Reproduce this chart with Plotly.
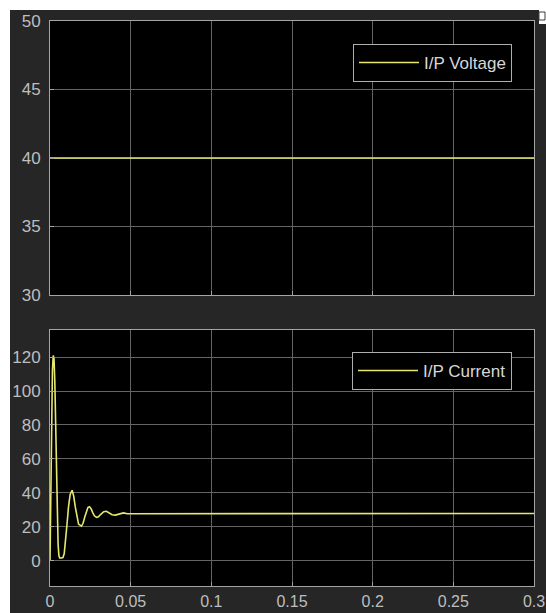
import plotly.graph_objects as go

# ---- data ----
volt_t = [0.0, 0.3]
volt_v = [40.0, 40.0]

curr_t = [0.0, 0.0005, 0.001, 0.0015, 0.002, 0.0025, 0.003, 0.0035, 0.004, 0.0045,
          0.005, 0.0055, 0.006, 0.007, 0.008, 0.0088, 0.0095, 0.0105, 0.0115, 0.0125,
          0.0137, 0.0147, 0.0157, 0.0167, 0.0177, 0.0195, 0.0205, 0.0215, 0.0225, 0.0235,
          0.0245, 0.0255, 0.0265, 0.0275, 0.0288, 0.030, 0.0315, 0.0333, 0.035, 0.0365,
          0.0385, 0.0405, 0.043, 0.0455, 0.048, 0.051, 0.055, 0.06, 0.1, 0.15, 0.2, 0.25, 0.3]
curr_v = [0.0, 40, 85, 112, 121, 119, 105, 80, 52, 27,
          10, 3, 1.5, 1.5, 1.8, 4, 10, 21, 32, 39,
          41.5, 38, 31.5, 25, 21.5, 20.3, 22, 25.5, 29, 31.3,
          31.8, 30.5, 28.3, 26.4, 25.5, 25.8, 27.3, 28.8, 29.1, 28.3,
          27.0, 26.8, 27.6, 28.1, 27.6, 27.6, 27.9, 27.7, 27.8, 27.7, 27.8, 27.7, 27.8]

x_ticks = [0, 0.05, 0.1, 0.15, 0.2, 0.25, 0.3]
x_labels = ["0", "0.05", "0.1", "0.15", "0.2", "0.25", "0.3"]
v_ticks = [30, 35, 40, 45, 50]
c_ticks = [0, 20, 40, 60, 80, 100, 120]

# ---- style ----
W, H = 546, 613
ML, MR, MT, MB = 50, 12, 21, 27
PW, PH = W - ML - MR, H - MT - MB
PANEL = "rgb(38,38,38)"
GRID = "rgb(100,100,100)"
AXL = "rgb(165,165,165)"
TXT = "rgb(190,190,190)"
LINE = "rgb(232,232,110)"
FONT = "Liberation Sans, Arial, sans-serif"

def py(pix):
    return (H - MB - pix) / PH

def px(pix):
    return (pix - ML) / PW

fig = go.Figure()
fig.add_trace(go.Scatter(x=volt_t, y=volt_v, mode="lines", name="I/P Voltage",
                         line=dict(color=LINE, width=1.6), xaxis="x", yaxis="y",
                         legend="legend"))
fig.add_trace(go.Scatter(x=curr_t, y=curr_v, mode="lines", name="I/P Current",
                         line=dict(color=LINE, width=1.6), xaxis="x2", yaxis="y2",
                         legend="legend2"))

ax_common = dict(showgrid=True, gridcolor=GRID, gridwidth=1, zeroline=False,
                 showline=True, linecolor=AXL, linewidth=1, mirror=True,
                 ticks="inside", ticklen=4, tickcolor=AXL, automargin=False,
                 tickfont=dict(family=FONT, size=17, color=TXT))

legend_common = dict(bgcolor="black", bordercolor="rgb(175,175,175)", borderwidth=1,
                     font=dict(family=FONT, size=17, color="rgb(215,215,215)"),
                     xanchor="right", yanchor="top", itemwidth=60,
                     tracegroupgap=0)

fig.update_layout(
    width=W, height=H,
    margin=dict(l=ML, r=MR, t=MT, b=MB),
    paper_bgcolor=PANEL, plot_bgcolor="black",
    showlegend=True,
    xaxis=dict(domain=[0, 1], range=[0, 0.3], tickvals=x_ticks, showticklabels=False,
               anchor="y", **ax_common),
    yaxis=dict(domain=[py(295), 1], range=[30, 50], tickvals=v_ticks,
               ticklabelstandoff=5, anchor="x", **ax_common),
    xaxis2=dict(domain=[0, 1], range=[0, 0.3], tickvals=x_ticks, ticktext=x_labels,
                ticklabelstandoff=1, anchor="y2", **ax_common),
    yaxis2=dict(domain=[0, py(330)], range=[-15, 136], tickvals=c_ticks,
                ticklabelstandoff=5, anchor="x2", **ax_common),
    legend=dict(x=px(512), y=py(44), **legend_common),
    legend2=dict(x=px(512), y=py(352), **legend_common),
    shapes=[
        # white strips outside the scope panel
        dict(type="rect", xref="paper", yref="paper", x0=px(0), x1=px(W), y0=py(10), y1=py(0),
             fillcolor="white", line=dict(width=0), layer="above"),
        dict(type="rect", xref="paper", yref="paper", x0=px(0), x1=px(10), y0=py(H), y1=py(0),
             fillcolor="white", line=dict(width=0), layer="above"),
        dict(type="rect", xref="paper", yref="paper", x0=px(539), x1=px(W), y0=py(24), y1=py(0),
             fillcolor="white", line=dict(width=0), layer="above"),
        dict(type="rect", xref="paper", yref="paper", x0=px(539), x1=px(545), y0=py(20), y1=py(12),
             fillcolor="white", line=dict(color="rgb(60,60,60)", width=1), layer="above"),
    ],
)
fig.update_xaxes(selector=dict(anchor="y2"), tickfont=dict(family=FONT, size=16, color=TXT))

fig.write_html("out.html", config={"displayModeBar": False},
               post_script="document.body.style.margin='0';")
